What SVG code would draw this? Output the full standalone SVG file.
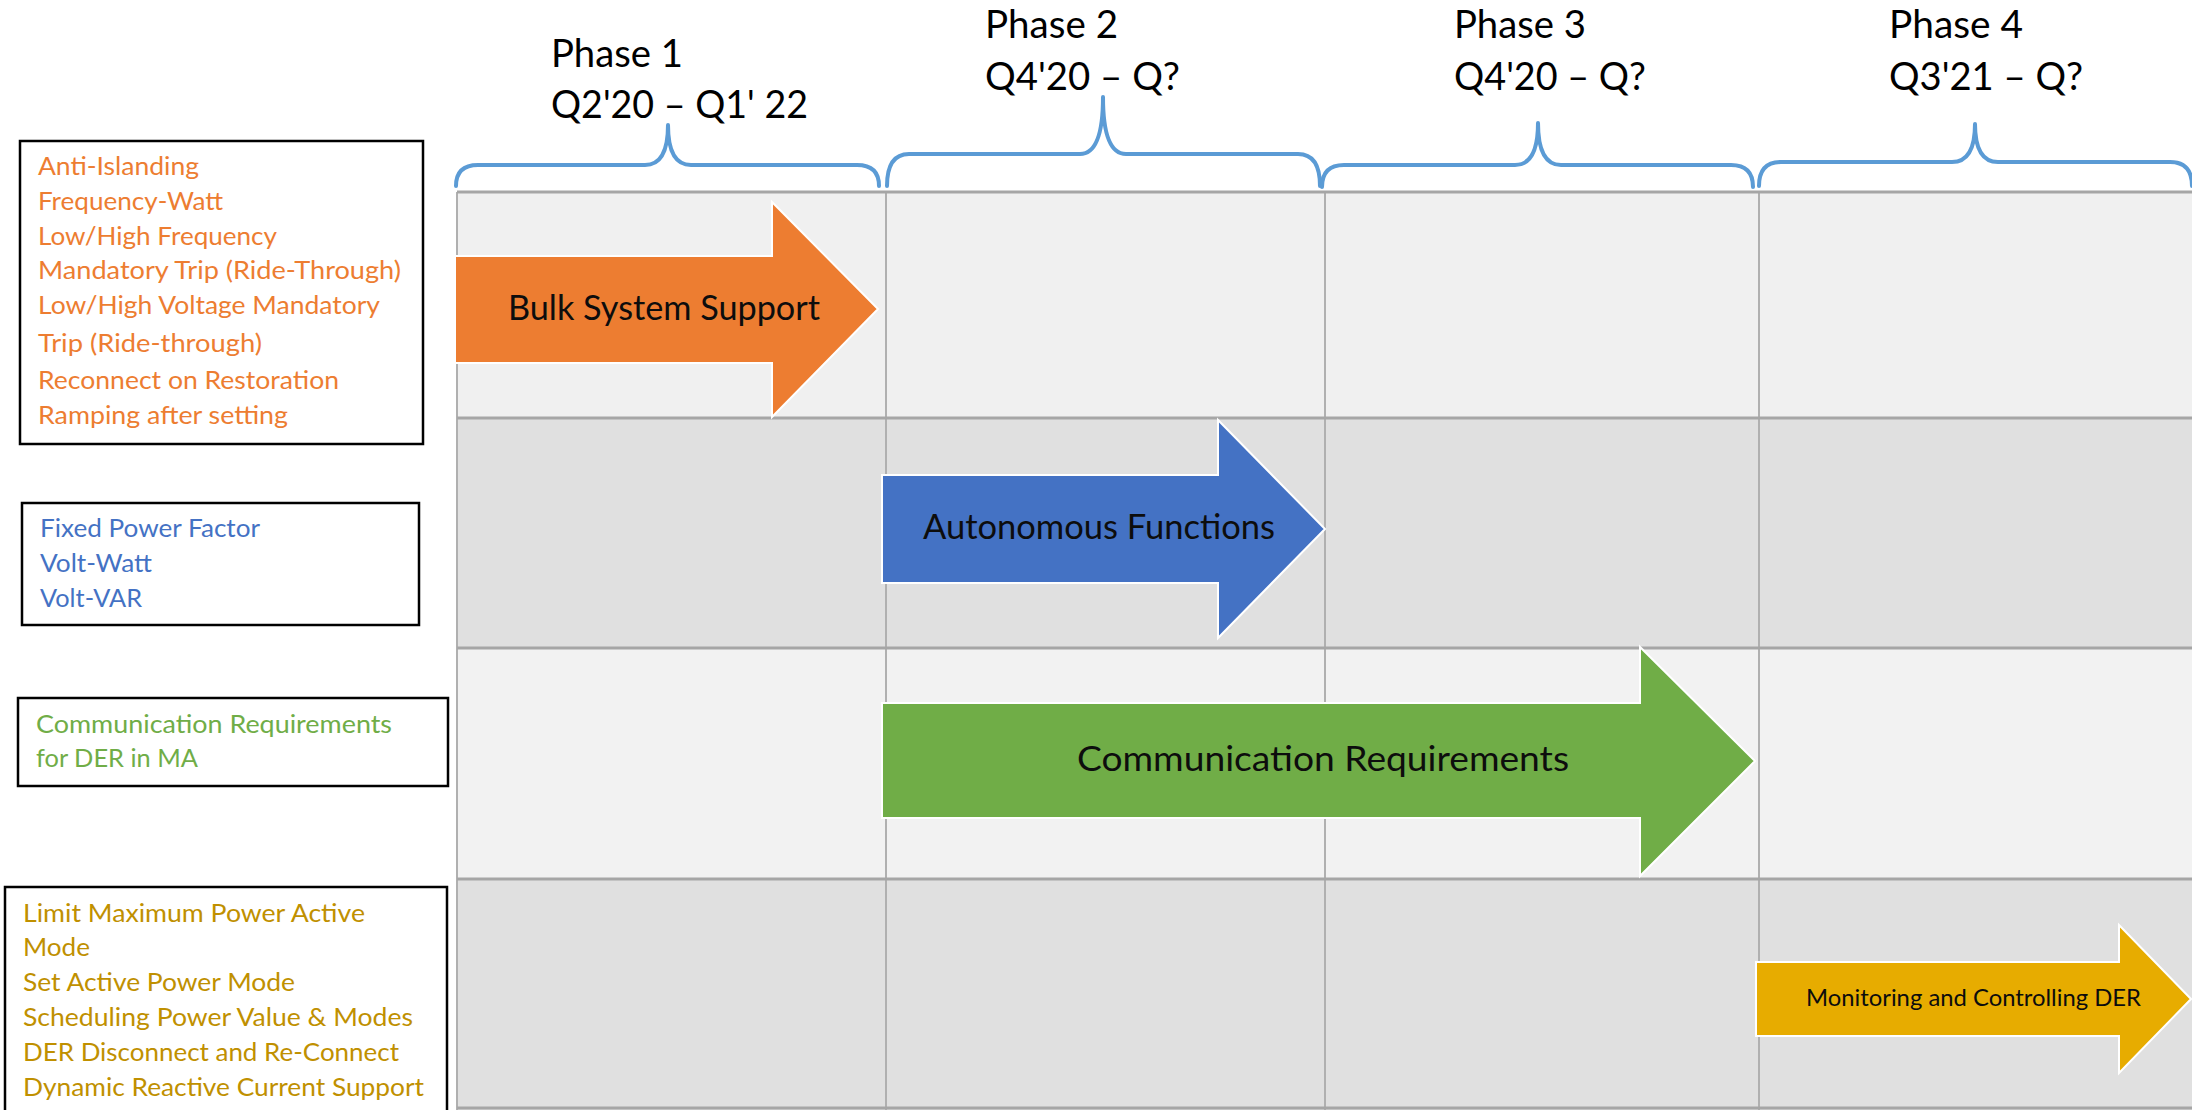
<svg xmlns="http://www.w3.org/2000/svg" width="2192" height="1110" viewBox="0 0 2192 1110">
  <style>
    text { font-family: Lato, "Open Sans", "Liberation Sans", sans-serif; }
    .phase { font-size: 39px; fill: #000; }
    .item { font-size: 25px; }
    .orange { fill: #ed7d31; }
    .blue { fill: #4472c4; }
    .green { fill: #70ad47; }
    .gold { fill: #c09000; }
    .box { fill: #fff; stroke: #000; stroke-width: 2.5; }
    .brace { fill: none; stroke: #5b9bd5; stroke-width: 4; stroke-linecap: round; stroke-linejoin: round; }
    .hline { stroke: #a6a6a6; stroke-width: 3; }
    .vline { stroke: #b0b0b0; stroke-width: 2; }
    .arrow { stroke: #fff; stroke-width: 2; }
    .label { font-size: 35px; fill: #0d0d0d; }
    .label-sm { font-size: 24px; fill: #0d0d0d; }
  </style>

  <rect width="2192" height="1110" fill="#fff"/>

  <!-- timeline grid -->
  <g id="grid">
    <rect x="457" y="192" width="1735" height="226" fill="#f0f0f0"/>
    <rect x="457" y="418" width="1735" height="230" fill="#e0e0e0"/>
    <rect x="457" y="648" width="1735" height="231" fill="#f2f2f2"/>
    <rect x="457" y="879" width="1735" height="231" fill="#e0e0e0"/>
    <line class="vline" x1="457" y1="192" x2="457" y2="1110"/>
    <line class="vline" x1="886" y1="192" x2="886" y2="1110"/>
    <line class="vline" x1="1325" y1="192" x2="1325" y2="1110"/>
    <line class="vline" x1="1759" y1="192" x2="1759" y2="1110"/>
    <line class="hline" x1="457" y1="192" x2="2192" y2="192"/>
    <line class="hline" x1="457" y1="418" x2="2192" y2="418"/>
    <line class="hline" x1="457" y1="648" x2="2192" y2="648"/>
    <line class="hline" x1="457" y1="879" x2="2192" y2="879"/>
    <line class="hline" x1="457" y1="1108" x2="2192" y2="1108"/>
  </g>

  <!-- phase braces and headings -->
  <g id="phase1">
    <path class="brace" d="M456,186 Q456,165 478,165 L645,165 Q668,165 668,125 Q668,165 691,165 L857,165 Q879,165 879,186"/>
    <text class="phase" x="551" y="67" textLength="132" lengthAdjust="spacingAndGlyphs">Phase 1</text>
    <text class="phase" x="551" y="118" textLength="257" lengthAdjust="spacingAndGlyphs">Q2'20 – Q1' 22</text>
  </g>
  <g id="phase2">
    <path class="brace" d="M887,186 Q887,154 909,154 L1080,154 Q1103,154 1103,97 Q1103,154 1126,154 L1298,154 Q1320,154 1320,186"/>
    <text class="phase" x="985" y="38" textLength="133" lengthAdjust="spacingAndGlyphs">Phase 2</text>
    <text class="phase" x="985" y="90" textLength="195" lengthAdjust="spacingAndGlyphs">Q4'20 – Q?</text>
  </g>
  <g id="phase3">
    <path class="brace" d="M1322,187 Q1322,165 1344,165 L1515,165 Q1538,165 1538,123 Q1538,165 1561,165 L1731,165 Q1753,165 1753,187"/>
    <text class="phase" x="1454" y="38" textLength="132" lengthAdjust="spacingAndGlyphs">Phase 3</text>
    <text class="phase" x="1454" y="90" textLength="192" lengthAdjust="spacingAndGlyphs">Q4'20 – Q?</text>
  </g>
  <g id="phase4">
    <path class="brace" d="M1759,186 Q1759,162 1781,162 L1952,162 Q1975,162 1975,124 Q1975,162 1998,162 L2170,162 Q2192,162 2192,186"/>
    <text class="phase" x="1889" y="38" textLength="134" lengthAdjust="spacingAndGlyphs">Phase 4</text>
    <text class="phase" x="1889" y="90" textLength="194" lengthAdjust="spacingAndGlyphs">Q3'21 – Q?</text>
  </g>

  <!-- requirement lists -->
  <g id="list-bulk">
    <rect class="box" x="20" y="141" width="403" height="303"/>
    <g class="item orange">
      <text x="38" y="175" textLength="161" lengthAdjust="spacingAndGlyphs">Anti-Islanding</text>
      <text x="38" y="210" textLength="185" lengthAdjust="spacingAndGlyphs">Frequency-Watt</text>
      <text x="38" y="245" textLength="239" lengthAdjust="spacingAndGlyphs">Low/High Frequency</text>
      <text x="38" y="279" textLength="363" lengthAdjust="spacingAndGlyphs">Mandatory Trip (Ride-Through)</text>
      <text x="38" y="314" textLength="342" lengthAdjust="spacingAndGlyphs">Low/High Voltage Mandatory</text>
      <text x="38" y="352" textLength="224" lengthAdjust="spacingAndGlyphs">Trip (Ride-through)</text>
      <text x="38" y="389" textLength="301" lengthAdjust="spacingAndGlyphs">Reconnect on Restoration</text>
      <text x="38" y="424" textLength="250" lengthAdjust="spacingAndGlyphs">Ramping after setting</text>
    </g>
  </g>
  <g id="list-autonomous">
    <rect class="box" x="22" y="503" width="397" height="122"/>
    <g class="item blue">
      <text x="40" y="537" textLength="220" lengthAdjust="spacingAndGlyphs">Fixed Power Factor</text>
      <text x="40" y="572" textLength="112" lengthAdjust="spacingAndGlyphs">Volt-Watt</text>
      <text x="40" y="607" textLength="102" lengthAdjust="spacingAndGlyphs">Volt-VAR</text>
    </g>
  </g>
  <g id="list-communication">
    <rect class="box" x="18" y="698" width="430" height="88"/>
    <g class="item green">
      <text x="36" y="733" textLength="356" lengthAdjust="spacingAndGlyphs">Communication Requirements</text>
      <text x="36" y="767" textLength="162" lengthAdjust="spacingAndGlyphs">for DER in MA</text>
    </g>
  </g>
  <g id="list-monitoring">
    <rect class="box" x="5" y="887" width="442" height="230"/>
    <g class="item gold">
      <text x="23" y="922" textLength="342" lengthAdjust="spacingAndGlyphs">Limit Maximum Power Active</text>
      <text x="23" y="956" textLength="67" lengthAdjust="spacingAndGlyphs">Mode</text>
      <text x="23" y="991" textLength="272" lengthAdjust="spacingAndGlyphs">Set Active Power Mode</text>
      <text x="23" y="1026" textLength="390" lengthAdjust="spacingAndGlyphs">Scheduling Power Value &amp; Modes</text>
      <text x="23" y="1061" textLength="376" lengthAdjust="spacingAndGlyphs">DER Disconnect and Re-Connect</text>
      <text x="23" y="1096" textLength="401" lengthAdjust="spacingAndGlyphs">Dynamic Reactive Current Support</text>
    </g>
  </g>

  <!-- phase arrows -->
  <g id="arrow-bulk">
    <polygon class="arrow" fill="#ed7d31" points="455,256 772,256 772,202 878,309 772,417 772,363 455,363"/>
    <text class="label" x="508" y="320" textLength="312" lengthAdjust="spacingAndGlyphs">Bulk System Support</text>
  </g>
  <g id="arrow-autonomous">
    <polygon class="arrow" fill="#4472c4" points="882,475 1218,475 1218,420 1325,529 1218,638 1218,583 882,583"/>
    <text class="label" x="923" y="539" textLength="352" lengthAdjust="spacingAndGlyphs">Autonomous Functions</text>
  </g>
  <g id="arrow-communication">
    <polygon class="arrow" fill="#70ad47" points="882,703 1640,703 1640,647 1755,761 1640,876 1640,818 882,818"/>
    <text class="label" x="1077" y="771" textLength="492" lengthAdjust="spacingAndGlyphs">Communication Requirements</text>
  </g>
  <g id="arrow-monitoring">
    <polygon class="arrow" fill="#e7ac00" points="1756,962 2119,962 2119,925 2191,999 2119,1073 2119,1036 1756,1036"/>
    <text class="label-sm" x="1806" y="1006" textLength="335" lengthAdjust="spacingAndGlyphs">Monitoring and Controlling DER</text>
  </g>
</svg>
